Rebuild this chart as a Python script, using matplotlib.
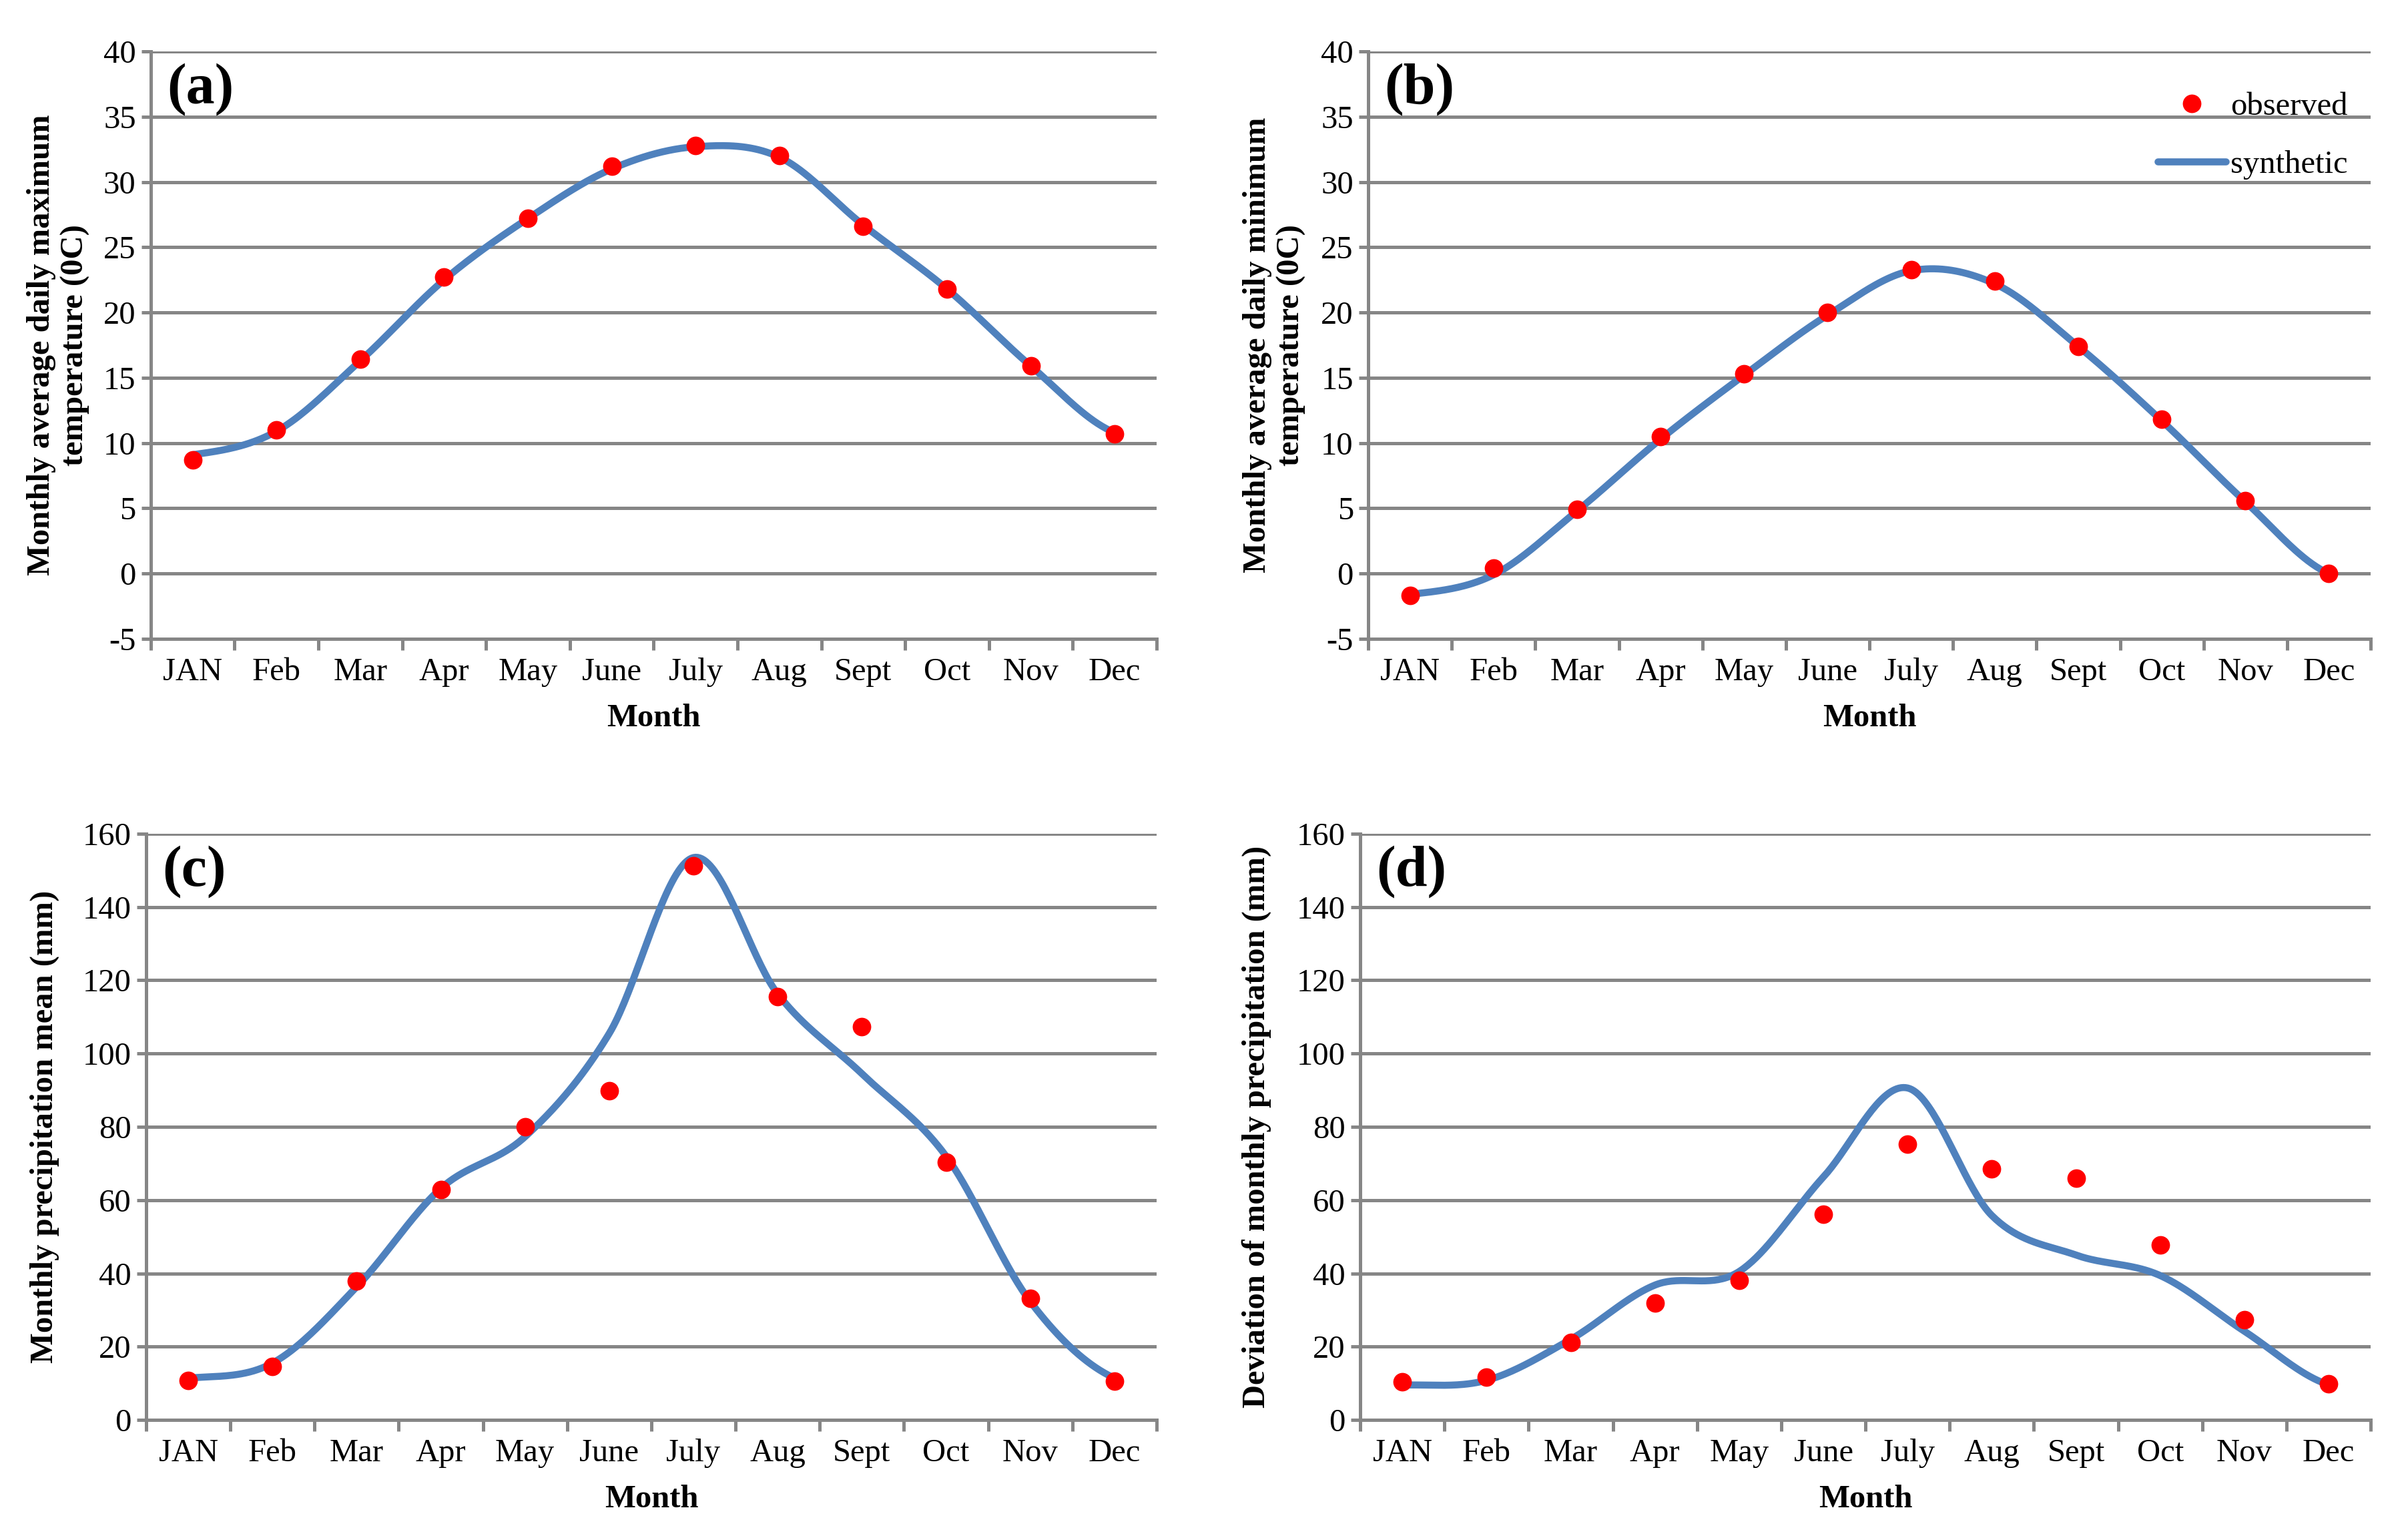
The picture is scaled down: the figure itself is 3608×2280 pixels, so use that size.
import numpy as np
import matplotlib.pyplot as plt

# ---- data ----
months = ["JAN", "Feb", "Mar", "Apr", "May", "June", "July", "Aug", "Sept", "Oct", "Nov", "Dec"]

tmax_obs = [8.7, 11.0, 16.4, 22.7, 27.2, 31.2, 32.8, 32.0, 26.6, 21.8, 15.9, 10.7]
tmax_syn = [9.1, 10.9, 16.3, 22.5, 27.2, 31.0, 32.7, 31.9, 26.7, 21.8, 15.9, 10.8]

tmin_obs = [-1.7, 0.4, 4.9, 10.5, 15.3, 20.0, 23.3, 22.4, 17.4, 11.8, 5.6, 0.0]
tmin_syn = [-1.6, -0.1, 4.8, 10.3, 15.2, 19.8, 23.2, 22.2, 17.4, 11.7, 5.5, 0.0]

pmean_obs = [10.8, 14.5, 37.9, 62.8, 80.0, 89.8, 151.3, 115.6, 107.3, 70.3, 33.2, 10.5]
pmean_syn = [11.4, 15.5, 36.3, 63.2, 77.3, 105.5, 153.5, 116.3, 94.5, 72.0, 32.3, 11.4]

pdev_obs = [10.4, 11.7, 21.2, 31.9, 38.1, 56.2, 75.3, 68.6, 65.9, 47.7, 27.3, 9.8]
pdev_syn = [9.5, 10.8, 22.0, 36.8, 40.5, 66.3, 90.6, 55.8, 45.0, 39.4, 24.2, 9.6]

BLUE = "#4F81BD"
RED = "#FF0000"
GRAY = "#868686"

plt.rcParams["font.family"] = ["Liberation Serif", "DejaVu Serif"]
plt.rcParams["axes.unicode_minus"] = False


def smooth_line(y, n=40):
    # Excel-style smoothed line (Catmull-Rom through the points)
    y = np.asarray(y, dtype=float)
    p = np.concatenate([[y[0]], y, [y[-1]]])
    xs, ys = [], []
    t = np.linspace(0, 1, n, endpoint=False)
    for i in range(len(y) - 1):
        p0, p1, p2, p3 = p[i], p[i + 1], p[i + 2], p[i + 3]
        m1 = (p2 - p0) / 2
        m2 = (p3 - p1) / 2
        h00 = 2 * t**3 - 3 * t**2 + 1
        h10 = t**3 - 2 * t**2 + t
        h01 = -2 * t**3 + 3 * t**2
        h11 = t**3 - t**2
        xs.append(i + t)
        ys.append(h00 * p1 + h10 * m1 + h01 * p2 + h11 * m2)
    xs.append([len(y) - 1])
    ys.append([y[-1]])
    return np.concatenate(xs), np.concatenate(ys)


def draw_panel(ax, obs, syn, ylim, ystep, ylabel, letter, label_x):
    x = np.arange(len(months))
    sx, sy = smooth_line(syn)
    ln, = ax.plot(sx, sy, color=BLUE, lw=3.8, solid_capstyle="round", zorder=3, label="synthetic")
    pt, = ax.plot(x, obs, "o", color=RED, ms=9, mec=RED, zorder=4, label="observed")

    ax.set_xlim(-0.5, 11.5)
    ax.set_ylim(*ylim)
    ax.set_yticks(np.arange(ylim[0], ylim[1] + 1, ystep))
    ax.yaxis.grid(True, color=GRAY, lw=1.8)
    ax.set_axisbelow(True)

    ax.set_xticks(x)
    ax.set_xticklabels(months)
    ax.set_xticks(np.arange(-0.5, 12, 1), minor=True)
    ax.tick_params(axis="x", which="major", length=0, pad=10, labelsize=17.5)
    ax.tick_params(axis="x", which="minor", length=6, width=1.8, color=GRAY, direction="out")
    ax.tick_params(axis="y", length=5, width=1.8, color=GRAY, pad=3, labelsize=17.5)

    for s in ["top", "right"]:
        ax.spines[s].set_visible(False)
    for s in ["left", "bottom"]:
        ax.spines[s].set_color(GRAY)
        ax.spines[s].set_linewidth(1.8)

    ax.set_xlabel("Month", fontsize=17.5, fontweight="bold", labelpad=9)
    ax.set_ylabel(ylabel, fontsize=17.5, fontweight="bold", linespacing=1.2)
    ax.yaxis.set_label_coords(label_x, 0.5)
    ax.text(0.016, 0.935, letter, transform=ax.transAxes, fontsize=31,
            fontweight="bold", va="center", ha="left")
    return pt, ln


fig = plt.figure(figsize=(18.04, 11.4), dpi=200)
ax_a = fig.add_axes([0.0626, 0.5803, 0.4177, 0.3859])
ax_b = fig.add_axes([0.5682, 0.5803, 0.4163, 0.3859])
ax_c = fig.add_axes([0.0607, 0.0671, 0.4196, 0.3851])
ax_d = fig.add_axes([0.5649, 0.0671, 0.4196, 0.3851])

draw_panel(ax_a, tmax_obs, tmax_syn, (-5, 40), 5,
           "Monthly average daily maximum\ntemperature (0C)", "(a)", -0.060)
pt, ln = draw_panel(ax_b, tmin_obs, tmin_syn, (-5, 40), 5,
                    "Monthly average daily minimum\ntemperature (0C)", "(b)", -0.062)
draw_panel(ax_c, pmean_obs, pmean_syn, (0, 160), 20,
           "Monthly precipitation mean (mm)", "(c)", -0.086)
draw_panel(ax_d, pdev_obs, pdev_syn, (0, 160), 20,
           "Deviation of monthly precipitation (mm)", "(d)", -0.088)

ax_b.legend(handles=[pt, ln], loc="upper right", bbox_to_anchor=(1.0, 0.97),
            frameon=False, fontsize=17.5, handlelength=2.1, handletextpad=0.15,
            labelspacing=0.9, borderaxespad=0.3)

fig.savefig("out.png", dpi=200, facecolor="white")
